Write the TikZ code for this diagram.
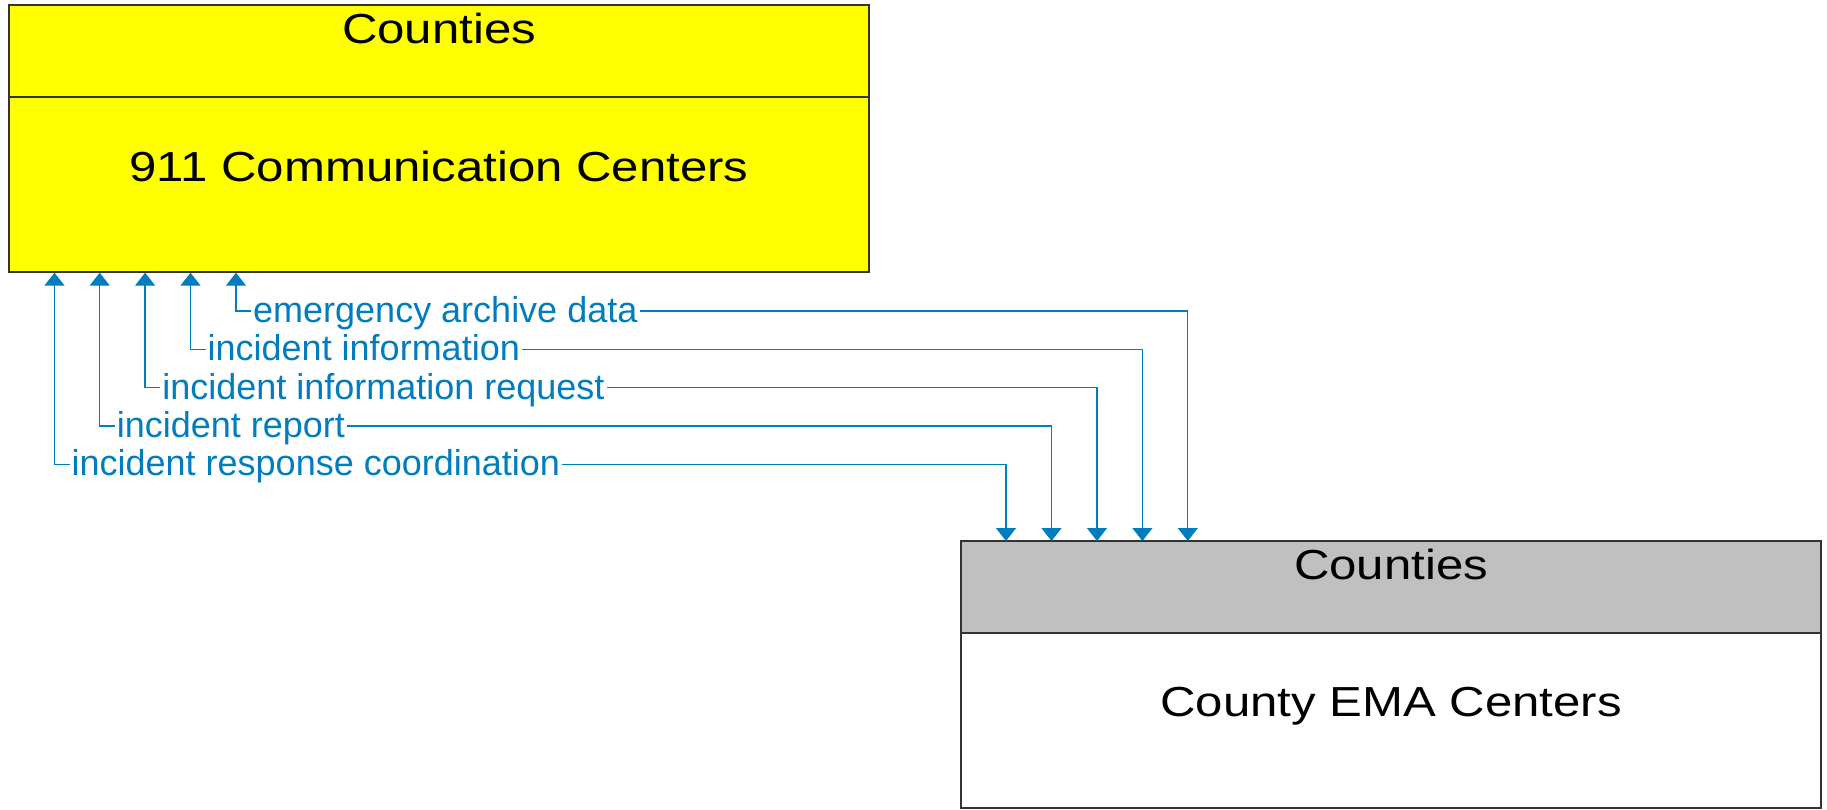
\documentclass[tikz,border=0pt]{standalone}
\usepackage{fontspec}
\setmainfont{Liberation Sans}
\newfontfamily\titlefont[FakeStretch=1.17]{Liberation Sans}
\usetikzlibrary{arrows.meta, positioning, calc}

\definecolor{flowblue}{RGB}{0,125,190}
\definecolor{entyellow}{RGB}{255,255,0}
\definecolor{entgray}{RGB}{192,192,192}

\begin{document}
\begin{tikzpicture} [
						x=1pt, y=-1pt,
						box/.style={draw=black!80, line width=1.5pt, minimum width=860pt, inner sep=0pt, outer sep=0pt},
						head/.style={box, minimum height=92pt},
						body/.style={box, minimum height=175pt},
						title/.style={font=\titlefont\fontsize{42}{50}\selectfont, anchor=base, inner sep=0pt},
						flow/.style={draw=flowblue, line width=1.3pt},
						flowlabel/.style={text=flowblue, font=\fontsize{36}{43}\selectfont, anchor=west, inner xsep=2pt, inner ysep=0pt, text height=28.8pt, text depth=6.1pt},
						tipin/.style={{Triangle[width=20pt,length=13pt]}-},
						tipout/.style={-{Triangle[width=20pt,length=13pt]}}
					]

\useasboundingbox (0,0) rectangle (1827,809);

% 911 centers
\node (cc-head) [head, fill=entyellow, anchor=north west] at (9,5) {};
\node (cc) [body, fill=entyellow, below=0pt of cc-head] {};
\node (cc-owner) [title] at (439,43.3) {Counties};
\node (cc-name) [title] at (439,181.7) {911 Communication Centers};

% EMA centers
\node (ema-head) [head, fill=entgray, anchor=north west] at (961,541) {};
\node (ema) [body, fill=white, below=0pt of ema-head] {};
\node (ema-owner) [title] at (1391,579.3) {Counties};
\node (ema-name) [title] at (1391,716.7) {County EMA Centers};

% flow ends
\coordinate (cc1) at (54.5,272.7);
\coordinate (cc2) at (99.7,272.7);
\coordinate (cc3) at (145.1,272.7);
\coordinate (cc4) at (190.5,272.7);
\coordinate (cc5) at (236,272.7);
\coordinate (ema1) at (1006,541);
\coordinate (ema2) at (1051.5,541);
\coordinate (ema3) at (1097,541);
\coordinate (ema4) at (1142.4,541);
\coordinate (ema5) at (1187.8,541);

% flow labels
\node (f1) [flowlabel] at (69.5,464.3) {incident response coordination};
\node (f2) [flowlabel] at (114.7,426) {incident report};
\node (f3) [flowlabel] at (160.1,387.7) {incident information request};
\node (f4) [flowlabel] at (205.5,349.3) {incident information};
\node (f5) [flowlabel] at (251,311) {emergency archive data};

\draw[flow, tipin] (cc1) |- (f1.west);
\draw[flow, tipout] (f1.east) -| (ema1);
\draw[flow, tipin] (cc2) |- (f2.west);
\draw[flow, tipout] (f2.east) -| (ema2);
\draw[flow, tipin] (cc3) |- (f3.west);
\draw[flow, tipout] (f3.east) -| (ema3);
\draw[flow, tipin] (cc4) |- (f4.west);
\draw[flow, tipout] (f4.east) -| (ema4);
\draw[flow, tipin] (cc5) |- (f5.west);
\draw[flow, tipout] (f5.east) -| (ema5);
\end{tikzpicture}
\end{document}
